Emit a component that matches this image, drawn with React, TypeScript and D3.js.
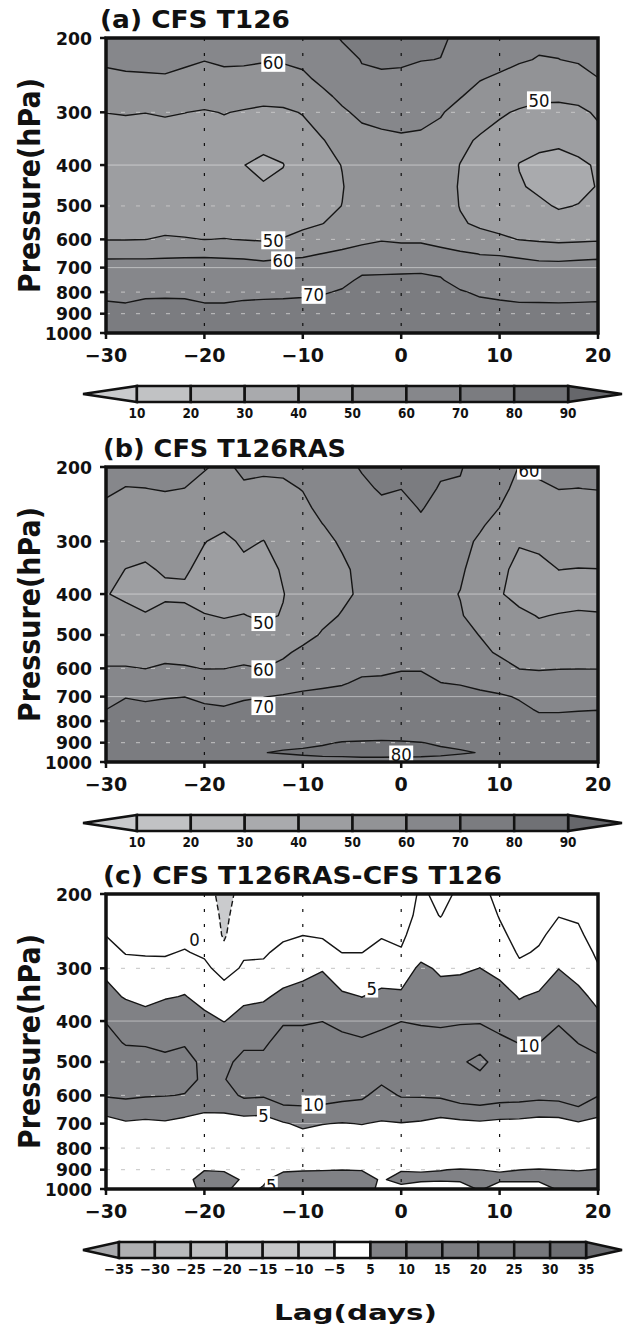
import React from 'react';
import * as d3 from 'd3';

// ---------- axes / grid definition ----------
const LAGS = [-30, -28, -26, -24, -22, -20, -18, -16, -14, -12, -10, -8, -6, -4, -2, 0, 2, 4, 6, 8, 10, 12, 14, 16, 18, 20];
const PRESSURES = [200, 225, 250, 275, 300, 350, 400, 450, 500, 550, 600, 650, 700, 750, 800, 850, 900, 950, 1000];
const Y_TICKS = [200, 300, 400, 500, 600, 700, 800, 900, 1000];
const X_TICKS = [-30, -20, -10, 0, 10, 20];
const DASH_LEVELS = [300, 500, 600, 800, 900];
const SOLID_LEVELS = [400, 700];
const DOT_LAGS = [-20, -10, 0, 10];

// ---------- panel (a) CFS T126 : one vertical profile (200..1000 hPa) per lag ----------
const PROFILES_A: number[][] = [
  [64, 62, 57.1, 53.5, 50.1, 46.5, 44.5, 44, 44.5, 46.5, 49.7, 57.5, 64.3, 66.5, 68.4, 70.4, 72.5, 74, 75],
  [64, 62, 58.7, 53.5, 50.4, 46.8, 44.5, 44, 44.5, 46.5, 49.7, 57.5, 64.5, 66.5, 68, 70.05, 72.5, 74, 75],
  [64, 62, 59.0, 53.5, 50.1, 46.5, 44.5, 44, 44.5, 46.5, 49.9, 57.5, 64.5, 66.5, 68.5, 71.0, 72.5, 74, 75],
  [64, 62, 59.3, 53.5, 50.6, 47.1, 44.5, 44, 44.5, 47, 51, 58, 64.5, 66.5, 68.5, 71.2, 72.5, 74, 75],
  [64, 62, 57.1, 53.5, 50.1, 46.5, 44.5, 44, 44.5, 47, 50.5, 58.5, 64.1, 66.5, 68.5, 71.0, 72.5, 74, 75],
  [63.5, 60.3, 56.55, 53.5, 49.3, 46.5, 44.5, 44, 44.5, 46.5, 49.9, 58.5, 64.5, 66.5, 68, 70.05, 72.5, 74, 75],
  [64, 62, 56.6, 53.5, 50.3, 47.0, 43, 43.5, 44.5, 47, 50.2, 58, 64.5, 66.5, 68, 70.05, 72.5, 74, 75],
  [64, 62, 55.9, 53.5, 49.3, 45.5, 40.1, 42, 44, 46.5, 49.7, 57.5, 64.3, 66.5, 68.5, 70.5, 72.5, 74, 75],
  [63.5, 61, 55, 52.5, 48.4, 42, 38.5, 40.5, 43.5, 46.5, 49, 57.3, 62.6, 66, 68.5, 70.8, 72.5, 74, 75],
  [63.5, 61, 56.2, 53, 48.7, 42.5, 39.8, 41.5, 44, 46.5, 50.4, 57.5, 64.3, 66.5, 68.5, 71.0, 72.5, 74, 75],
  [64, 62, 58.2, 54, 50.4, 46.8, 44, 44, 45, 48.5, 52.2, 58.5, 64.5, 66.5, 68.5, 71.6, 72.5, 74, 75],
  [66, 64.5, 62, 57.9, 54, 49.6, 47.5, 47, 48, 49.9, 54, 60.25, 64, 67, 69.3, 72.1, 73, 74.5, 75.5],
  [70.8, 66.5, 64.5, 62, 58.7, 53, 50.2, 49.6, 50.1, 52, 56, 61.8, 65, 68, 70.8, 72.5, 73.5, 75, 76],
  [72, 70.4, 68.5, 65, 62, 56.7, 54, 54, 55, 57, 58.5, 62.5, 68, 71.3, 73, 74, 75, 76, 76.5],
  [73, 71, 69, 66, 62.5, 58.3, 55, 54.5, 55.5, 57.5, 59.7, 62.2, 68.5, 71.2, 73, 74, 75, 76, 76.5],
  [73, 71, 68.6, 66, 63, 58.9, 55, 54.5, 55.5, 57.5, 59.5, 61.5, 69, 71, 73, 74, 75, 76, 76.5],
  [72.5, 70.2, 67.7, 65.5, 62.5, 58.5, 55, 54.5, 55.5, 57.5, 59.5, 61.5, 69, 71.2, 73, 74, 75, 76, 76.5],
  [71, 69.9, 66.5, 63.5, 60.5, 57.9, 54.5, 54, 55, 57, 58.5, 61.3, 68, 70.7, 73, 74, 75, 76, 76.5],
  [68.5, 66, 63, 60.3, 57.9, 52, 49.8, 49.3, 49.6, 51, 55, 61.2, 64.5, 67, 70.75, 72, 73.5, 74.5, 75.5],
  [65, 62.5, 60.3, 57.8, 54, 48.9, 46, 45.5, 46.5, 48.5, 53.3, 59.9, 62.4, 66, 68.8, 71.5, 73, 74.5, 75.5],
  [64.5, 62, 59, 55, 51, 47, 44, 44, 45, 47.5, 51.3, 59.5, 63.7, 66.5, 68.5, 70.6, 72.5, 74, 75],
  [63.5, 61, 56.2, 53, 49.1, 42, 39.8, 40.5, 43, 46, 49.8, 57.5, 65.6, 67, 68.5, 70.13, 72.5, 74, 75],
  [62, 59.5, 56.5, 52, 47.1, 41.5, 38.5, 39, 41, 45, 48.8, 57, 63, 66, 68.5, 70.1, 72.5, 74, 75],
  [62, 59.9, 57, 52, 46.6, 41, 38, 38, 39.5, 42, 48, 56.5, 63, 66, 68.5, 70.05, 72.5, 74, 75],
  [63, 61, 56.2, 53, 47.7, 42, 39, 38.5, 40.2, 44, 48.5, 57, 63.5, 66, 68.5, 70.13, 72.5, 74, 75],
  [64, 62, 59.85, 55, 51.5, 46.8, 40.6, 40.3, 41, 45, 49, 57.5, 64, 66.5, 68.5, 70.25, 72.5, 74, 75],
];

// ---------- panel (b) CFS T126RAS ----------
const PROFILES_B: number[][] = [
  [62, 61, 58.96, 56, 54, 52, 50.6, 51.5, 54, 57, 60.5, 64, 67, 69.9, 73, 75, 76.5, 77.5, 77.5],
  [62, 59.8, 57.5, 55.5, 53, 49.9, 47.5, 54, 55.5, 57, 60.5, 65, 69.6, 72.9, 74, 75.5, 76.5, 77.5, 77.5],
  [62, 59.95, 57.5, 55.5, 53, 48.9, 47, 50.6, 54, 57, 59.9, 64, 69, 71.5, 73.5, 75.5, 76.5, 77.5, 77.5],
  [62, 60.3, 58.3, 56, 53.5, 51, 48, 53.6, 55.5, 57.5, 61.1, 65, 69.5, 72.4, 74, 75.5, 76.5, 77.5, 77.5],
  [62, 59.95, 57.5, 55.5, 53.5, 51, 48.5, 52.2, 55, 57.5, 60.6, 65, 69.9, 73, 74, 75.5, 76.5, 77.5, 77.5],
  [60.5, 58, 56, 53, 50.3, 47.6, 46.5, 50.4, 54, 57, 59.8, 64, 69, 70.8, 73, 75, 76.5, 77.5, 77.5],
  [58.5, 57, 55.5, 51.5, 47.8, 46, 46, 49.5, 53.1, 57, 59.9, 64, 67.5, 70.8, 73, 75, 76.5, 77.5, 77.5],
  [61.5, 59, 57, 54, 51.5, 47.6, 46.5, 50.3, 54, 57.5, 60.7, 65, 69.3, 71.6, 73.5, 75.5, 77, 78, 78],
  [61, 58.7, 56.5, 53, 49.8, 46.5, 46, 48.5, 53.3, 57, 59.95, 64.5, 69.8, 72.7, 75, 77, 79, 79.95, 78.5],
  [61.5, 58.6, 57, 55, 53.5, 51, 49.7, 50.5, 55, 58.5, 62.2, 66, 70.7, 73, 75, 77, 79.4, 80.2, 78.5],
  [62, 60.3, 58.3, 56, 55, 54.5, 54, 55, 57, 62, 64.5, 67.5, 71.7, 73.5, 75.5, 77.5, 79.2, 80.6, 78.5],
  [64, 63, 62, 59.8, 58, 56.5, 56.5, 58, 60.8, 63.5, 65.5, 68.5, 72.25, 74, 76, 78, 79.6, 81, 78.5],
  [67, 65.5, 64, 62.5, 61, 58.6, 58.5, 60.5, 62.5, 64.5, 66.5, 69.5, 72.3, 74.5, 76.5, 78, 80.2, 81.3, 78.3],
  [70.8, 68.1, 66, 64.5, 63, 62, 61.2, 62, 63.5, 66.5, 68.5, 71.1, 73, 75, 76.5, 78, 80.4, 81.5, 78.5],
  [72, 71, 68, 66, 64.5, 63, 62.5, 63, 64.5, 66.5, 69, 71, 73.5, 75.5, 77, 78.2, 80.5, 81.5, 78.5],
  [72, 70.1, 67.6, 66, 64.5, 63, 62.5, 63, 64.5, 67, 69.5, 72, 74, 75.5, 77, 78, 80.4, 81.4, 78.4],
  [73, 72, 70.5, 68.5, 66, 64, 63, 63.5, 65, 67, 69.6, 71.7, 74, 75.5, 77, 78, 80.1, 81.2, 78.5],
  [71, 69.5, 67.5, 65.5, 64, 62.5, 61.5, 62, 63.5, 65.5, 67.5, 70.1, 73, 75, 76.5, 78, 79.5, 80.8, 78.5],
  [70.5, 69.3, 66.5, 64, 62.5, 61, 59.8, 60.5, 62.5, 64.5, 66.5, 69.5, 72.8, 74.5, 76, 77.5, 79.3, 80.3, 78.5],
  [67, 65, 63, 61, 58.8, 57, 56.5, 57.5, 59.8, 61.8, 64.5, 67.5, 72.4, 74, 75.5, 77, 78.5, 79.9, 78],
  [63.5, 62, 59.95, 57, 55, 53, 50.5, 52.5, 55, 59, 62.8, 66, 71.1, 73.5, 75, 76.5, 78, 79, 78],
  [59.8, 58, 56.5, 53, 51, 46.5, 48, 51.3, 55, 58, 59.9, 62.4, 69.3, 71.6, 74, 76, 77.5, 78.5, 78],
  [61.5, 58.9, 56.5, 53.5, 52, 47.6, 46.5, 49.7, 51.8, 56, 59.3, 64, 67.5, 69.3, 71.8, 74, 76, 77.5, 77.5],
  [62, 60.1, 58, 55.5, 53.5, 50.05, 47.5, 50.3, 53.5, 56.5, 59.7, 64.7, 67.5, 69.3, 71.8, 74, 76, 77.5, 77.5],
  [62, 59.95, 57.5, 55, 53.5, 49.8, 47.5, 50.8, 54, 57, 59.85, 63.5, 67, 69.6, 72, 74, 76, 77.5, 77.5],
  [62, 60.2, 57.7, 55, 53.5, 49.9, 47.5, 50.5, 54, 57, 59.8, 63.5, 67, 69.8, 72.3, 74, 76, 77.5, 77.5],
];

// ---------- panel (c) CFS T126RAS - CFS T126 ----------
const PROFILES_C: number[][] = [
  [-2.5, -1.5, -0.1, 1.5, 4, 6.4, 9.8, 11.8, 12.5, 12, 10.4, 6.8, 2.8, 2, 2, 2.5, 3, 3.5, 3.5],
  [-2.5, -2, -1, -0.2, 1.4, 4.6, 8.2, 9.6, 12.5, 12.5, 10.8, 7.6, 4.4, 2.5, 2, 2.5, 3, 4, 4],
  [-2.5, -2, -1, -0.3, 1, 4.2, 6.15, 9.5, 11.9, 12, 10.3, 7.6, 3.8, 2.5, 2, 2.5, 3, 3.5, 3.5],
  [-2.5, -2, -1, -0.3, 0.85, 4.6, 8.2, 9, 11, 11.5, 10.2, 6.2, 4.7, 2.5, 2, 2.5, 3, 3.5, 3.5],
  [-2.5, -1.8, -1, 0.23, 2.5, 5.2, 8, 9.6, 11.5, 11.5, 9.8, 7, 3.2, 2.5, 2, 2.5, 3, 3.5, 3.5],
  [-2.5, -2, -1.5, -0.6, 0.86, 3.5, 6.2, 8.5, 9, 9.2, 8, 5.5, 2.9, 2, 2, 3, 4.8, 7, 6],
  [-7, -6, -5.5, -4, -1.5, 2.07, 4.9, 7.5, 9, 9.8, 8.5, 5.6, 2.9, 2, 2, 3, 4.6, 6.6, 5.5],
  [-3, -2.5, -1.5, -0.5, 0.5, 4.3, 6.2, 9.2, 11.2, 12, 10.6, 7.5, 1.94, 2, 2, 3, 4, 4.5, 4],
  [-3, -2.5, -1.5, -0.6, 0.86, 4.5, 6.8, 9.2, 11.2, 12, 10.5, 6.5, 2.65, 2, 2, 3, 4, 4.5, 5.3],
  [-2.5, -1.8, -0.8, 1.2, 3, 5.86, 9.5, 11.9, 12.5, 12.5, 11.5, 9.2, 4.5, 3, 2.5, 3.5, 4.5, 6.6, 5.5],
  [-2.5, -1.5, -0.05, 1.5, 4, 6.2, 9.5, 11.9, 12.5, 12.5, 11.5, 9.4, 6, 3.6, 2.5, 3.5, 4.8, 6.3, 6],
  [-2.5, -1.5, -0.3, 1.1, 4.8, 6.6, 9.95, 12, 12.5, 12.5, 11.5, 9.1, 5.15, 3, 2.5, 3.5, 4.8, 7, 6],
  [-2.5, -1.8, -1, -0.05, 1.8, 5.75, 9, 11, 12, 12, 11, 8.6, 4.77, 3, 2.5, 3.5, 4.95, 7, 6],
  [-2.5, -1.8, -1, -0.05, 1.8, 4.95, 6.6, 11.1, 12, 12, 10.6, 8.5, 5.15, 3, 2.5, 3.5, 4.8, 7, 6],
  [-2.5, -1.5, -0.3, 1.1, 3, 5.86, 9.2, 11.15, 12, 10.7, 8.7, 7, 4.5, 3, 2.5, 3.5, 4, 4.5, 4.5],
  [-2, -1.5, -0.7, 0.3, 2.5, 5.8, 9.95, 12, 12.5, 12, 10.3, 7.8, 4.8, 3, 2.5, 3.5, 4.7, 6.5, 3.55],
  [0.5, 1, 2, 3.5, 5.96, 7, 9.5, 11.9, 12.5, 12, 10.4, 7.5, 4.4, 3, 2.5, 3.5, 4.8, 5.6, 3],
  [-0.8, -0.1, 1.15, 2.5, 4.3, 6.7, 9.3, 11.6, 12, 12, 10.5, 8, 2.5, 2.5, 2.5, 3.5, 4.95, 5.4, 3],
  [0.5, 1.5, 2.5, 3.5, 4.5, 6.7, 9.6, 12, 11, 12, 11.2, 9, 3.4, 2.5, 2.5, 3.5, 5.1, 5.6, 3],
  [1, 2, 3, 4, 5.04, 7, 9.6, 13, 8, 12, 11.3, 9.36, 4, 2.5, 2.5, 3.5, 4.98, 6, 5.5],
  [-1, -0.2, 0.75, 2.5, 4, 6.4, 8.8, 10.8, 13, 12, 11, 9, 3.2, 2.5, 2.5, 3.5, 4.8, 5.6, 3],
  [-2.5, -2, -1.2, -0.5, 0.85, 4.8, 6.5, 9.9, 11.9, 12, 10.9, 8.9, 2.9, 2.5, 2.5, 3.5, 4.98, 5.6, 3],
  [-2.5, -1.5, -0.6, 0.38, 2.5, 5.6, 8, 9.95, 12, 12, 11.2, 7.5, 2.6, 2.5, 2.5, 3.5, 5.1, 5.6, 3],
  [-1, -0.1, 1.15, 3, 4.95, 7, 9.5, 11.9, 12.5, 12, 11.3, 8, 2.5, 2.5, 2.5, 3.5, 4.98, 6, 5.5],
  [-1.5, -0.4, 0.58, 2, 3.5, 6, 8, 9.9, 11.9, 12, 11.5, 9.55, 4.3, 3, 2.5, 3.5, 4.8, 6.5, 5.2],
  [-2.5, -2, -1.5, -0.7, 0.31, 4, 6, 9, 10.7, 11, 10.1, 8.1, 2.25, 2.5, 2.5, 3.5, 5.1, 6, 5.5],
];

// ---------- shading levels, colours, contour-line levels ----------
const LEVELS_AB = [10, 20, 30, 40, 50, 60, 70, 80, 90];
const COLORS_AB = ['#c9cacc', '#c1c2c4', '#b5b6b8', '#a9aaad', '#9d9ea1', '#929396', '#86878b', '#7b7c80', '#707175', '#66676b'];
const LINES_AB = [30, 40, 50, 60, 70, 80, 90];
const LEVELS_C = [-35, -30, -25, -20, -15, -10, -5, 5, 10, 15, 20, 25, 30, 35];
const COLORS_C = ['#a8a9ac', '#afb0b2', '#b8b9bb', '#bfc0c2', '#c4c5c7', '#c7c8ca', '#cacbcd', '#ffffff', '#808185', '#7e7f83', '#7c7d81', '#7a7b7f', '#77787c', '#6d6e72', '#68696d'];
const LINES_C = [-15, -10, -5, 0, 5, 10, 15, 20];

// contour labels: text, lag, pressure
const LABELS_A: [string, number, number][] = [['60', -13, 229], ['50', 14, 281], ['50', -13, 603], ['60', -12, 673], ['70', -8.9, 812]];
const LABELS_B: [string, number, number][] = [['60', 13, 204], ['50', -14, 466], ['60', -14, 603], ['70', -14, 737], ['80', 0, 960]];
const LABELS_C: [string, number, number][] = [['0', -21, 257], ['5', -3, 335], ['10', 13, 457], ['10', -8.9, 631], ['5', -14, 668], ['5', -13.2, 980]];

// ---------- layout ----------
const X0 = 106, X1 = 598, PH = 295;
const FONT = "'DejaVu Sans', 'Liberation Sans', sans-serif";

const fmt = d3.format('d');

type PanelProps = {
  id: string; top: number; profiles: number[][]; levels: number[]; colors: string[];
  lines: number[]; labels: [string, number, number][]; title: string; titleX: number; titleW: number;
};

function Panel({ id, top, profiles, levels, colors, lines, labels, title, titleX, titleW }: PanelProps) {
  const n = LAGS.length, m = PRESSURES.length;
  const values: number[] = new Array(n * m);
  for (let r = 0; r < m; r++) for (let c = 0; c < n; c++) values[r * n + c] = profiles[c][r];

  const xs = d3.scaleLinear().domain([LAGS[0], LAGS[n - 1]]).range([X0, X1]);
  const ys = d3.scaleLog().domain([PRESSURES[0], PRESSURES[m - 1]]).range([top, top + PH]);
  const gx = (x: number) => {
    const f = Math.max(0, Math.min(n - 1, x - 0.5));
    const i = Math.min(n - 2, Math.floor(f));
    const t = f - i;
    return xs(LAGS[i] + (LAGS[i + 1] - LAGS[i]) * t);
  };
  const gy = (y: number) => {
    const f = Math.max(0, Math.min(m - 1, y - 0.5));
    const i = Math.min(m - 2, Math.floor(f));
    const t = f - i;
    return ys(Math.exp(Math.log(PRESSURES[i]) * (1 - t) + Math.log(PRESSURES[i + 1]) * t));
  };
  const gen = d3.contours().size([n, m]);
  const toPath = (mp: any) =>
    mp.coordinates
      .map((poly: number[][][]) =>
        poly.map((ring) => 'M' + ring.map(([x, y]) => gx(x).toFixed(2) + ',' + gy(y).toFixed(2)).join('L') + 'Z').join('')
      )
      .join('');

  const bottom = top + PH;
  const clipId = 'clip-' + id;

  // colour bar geometry
  const nb = levels.length - 1;
  const tipL = 83, tipR = 622;
  const w = (tipR - tipL) / (nb + 2);
  const bL = tipL + w, bR = tipR - w;
  const cbT = bottom + 53, cbH = 16;

  return (
    <g>
      <defs>
        <clipPath id={clipId}>
          <rect x={X0} y={top} width={X1 - X0} height={PH} />
        </clipPath>
      </defs>
      <g clipPath={`url(#${clipId})`}>
        <rect x={X0} y={top} width={X1 - X0} height={PH} fill={colors[0]} />
        {levels.map((t, i) => (
          <path key={'f' + t} d={toPath(gen.contour(values, t))} fill={colors[i + 1]} fillRule="evenodd" />
        ))}
        {DASH_LEVELS.map((p) => (
          <line key={'hd' + p} x1={X0} x2={X1} y1={ys(p)} y2={ys(p)} stroke="#c4c4c4" strokeWidth={1} strokeDasharray="4,11" />
        ))}
        {SOLID_LEVELS.map((p) => (
          <line key={'hs' + p} x1={X0} x2={X1} y1={ys(p)} y2={ys(p)} stroke="rgba(255,255,255,0.45)" strokeWidth={1} />
        ))}
        {lines.map((t) => (
          <path key={'l' + t} d={toPath(gen.contour(values, t))} fill="none" stroke="#151515" strokeWidth={1.4}
            strokeLinejoin="round" strokeDasharray={t < 0 ? '6,3' : undefined} />
        ))}
        {DOT_LAGS.map((l) => (
          <line key={'v' + l} x1={xs(l)} x2={xs(l)} y1={top} y2={bottom} stroke="#111" strokeWidth={1.2} strokeDasharray="3,12" />
        ))}
        {labels.map(([txt, lag, p], i) => {
          const cx = xs(lag), cy = ys(p);
          const bw = txt.length === 1 ? 13 : 24;
          return (
            <g key={'lab' + i}>
              <rect x={cx - bw / 2} y={cy - 9} width={bw} height={18} fill="#fff" />
              <text x={cx} y={cy + 6.5} textAnchor="middle" fontSize={18} fontFamily={FONT} fill="#111"
                textLength={txt.length === 1 ? 10.5 : 21} lengthAdjust="spacingAndGlyphs">{txt}</text>
            </g>
          );
        })}
      </g>
      <rect x={X0} y={top} width={X1 - X0} height={PH} fill="none" stroke="#111" strokeWidth={3.5} />
      {Y_TICKS.map((p) => (
        <g key={'yt' + p}>
          <line x1={X0 - 6} x2={X0} y1={ys(p)} y2={ys(p)} stroke="#111" strokeWidth={2.5} />
          <text x={92} y={ys(p) + 6.5} textAnchor="end" fontSize={18} fontWeight="bold" fontFamily={FONT} fill="#111"
            textLength={p === 1000 ? 47 : 36} lengthAdjust="spacingAndGlyphs">{p}</text>
        </g>
      ))}
      {X_TICKS.map((l) => (
        <g key={'xt' + l}>
          <line x1={xs(l)} x2={xs(l)} y1={bottom} y2={bottom + 6} stroke="#111" strokeWidth={2.5} />
          <text x={xs(l)} y={bottom + 28.5} textAnchor="middle" fontSize={19} fontWeight="bold" fontFamily={FONT} fill="#111">{fmt(l)}</text>
        </g>
      ))}
      <text x={titleX} y={top - 10} fontSize={24.5} fontWeight="bold" fontFamily={FONT} fill="#111"
        textLength={titleW} lengthAdjust="spacingAndGlyphs">{title}</text>
      <text transform={`translate(40,${top + PH / 2}) rotate(-90)`} textAnchor="middle" fontSize={30} fontWeight="bold"
        fontFamily={FONT} fill="#111" textLength={215} lengthAdjust="spacingAndGlyphs">Pressure(hPa)</text>

      {/* colour bar */}
      <polygon points={`${tipL},${cbT + cbH / 2} ${bL},${cbT} ${bL},${cbT + cbH}`} fill={colors[0]} stroke="#111" strokeWidth={2.5} strokeLinejoin="miter" />
      <polygon points={`${tipR},${cbT + cbH / 2} ${bR},${cbT} ${bR},${cbT + cbH}`} fill={colors[colors.length - 1]} stroke="#111" strokeWidth={2.5} />
      {d3.range(nb).map((i) => (
        <rect key={'cb' + i} x={bL + i * w} y={cbT} width={w} height={cbH} fill={colors[i + 1]} stroke="#111" strokeWidth={2.5} />
      ))}
      {levels.map((lv, i) => {
        const s = fmt(lv);
        const digits = s.replace('−', '').length;
        const tl = digits * 8.4 + (lv < 0 ? 13 : 0);
        return (
          <text key={'cbl' + lv} x={bL + i * w} y={cbT + 32} textAnchor="middle" fontSize={14} fontWeight="bold"
            fontFamily={FONT} fill="#111" textLength={tl} lengthAdjust="spacingAndGlyphs">{s}</text>
        );
      })}
    </g>
  );
}

export default function App() {
  return (
    <svg width={626} height={1336} viewBox="0 0 626 1336" style={{ position: 'absolute', left: 0, top: 0, display: 'block' }}>
      <rect x={0} y={0} width={626} height={1336} fill="#fff" />
      <Panel id="a" top={38} profiles={PROFILES_A} levels={LEVELS_AB} colors={COLORS_AB} lines={LINES_AB} labels={LABELS_A}
        title="(a) CFS T126" titleX={100} titleW={190} />
      <Panel id="b" top={467} profiles={PROFILES_B} levels={LEVELS_AB} colors={COLORS_AB} lines={LINES_AB} labels={LABELS_B}
        title="(b) CFS T126RAS" titleX={103} titleW={243} />
      <Panel id="c" top={894} profiles={PROFILES_C} levels={LEVELS_C} colors={COLORS_C} lines={LINES_C} labels={LABELS_C}
        title="(c) CFS T126RAS-CFS T126" titleX={103} titleW={399} />
      <text x={355.5} y={1320} textAnchor="middle" fontSize={22} fontWeight="bold" fontFamily={FONT} fill="#111"
        textLength={163} lengthAdjust="spacingAndGlyphs">Lag(days)</text>
    </svg>
  );
}
